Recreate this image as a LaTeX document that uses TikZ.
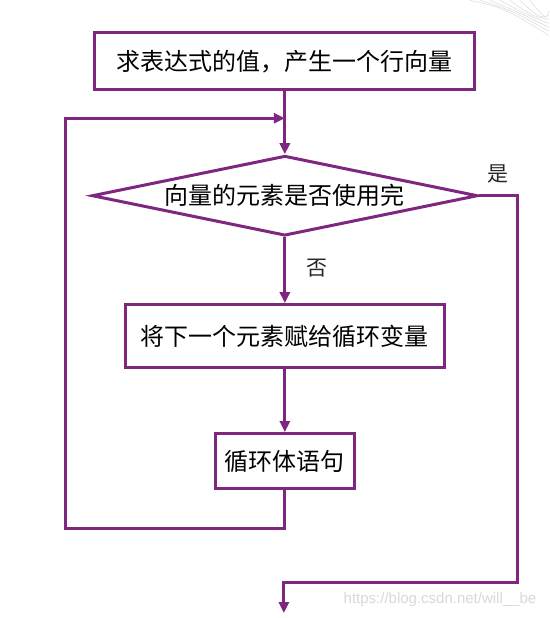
\documentclass[tikz,border=0pt]{standalone}
\usepackage{fontspec}
\newfontfamily\cjk{Noto Sans CJK SC}
\newfontfamily\urlfont{Liberation Sans}
\usetikzlibrary{shapes.geometric, arrows.meta, positioning}
\definecolor{flowpurple}{RGB}{126,38,128}

\begin{document}
\begin{tikzpicture}[x=1pt, y=-1pt,
  process/.style={rectangle, minimum height=57pt, text centered, align=center, draw=flowpurple, line width=3pt, fill=white, font=\cjk\fontsize{24}{28}\selectfont},
  decision/.style={diamond, aspect=4.8, inner sep=0pt, minimum width=386pt, minimum height=80pt, text centered, align=center, draw=flowpurple, line width=3pt, fill=white, font=\cjk\fontsize{24}{28}\selectfont},
  answer/.style={font=\cjk\fontsize{21}{24}\selectfont, text=black!85},
  arrow/.style={draw=flowpurple, line width=3pt, -{Triangle[length=11pt,width=10pt]}},
  link/.style={draw=flowpurple, line width=3pt}]

  % Background
  \fill[white] (0,0) rectangle (549,618);
  \foreach \i in {0,...,6}
    \draw[gray!25, line width=0.6pt] (470+10*\i,0) .. controls (505+7*\i,8+2*\i) .. (549,35-4*\i);

  % Nodes
  \node (calc) [process, minimum width=380pt] at (285,61) {求表达式的值，产生一个行向量};
  \node (check) [decision, below=63pt of calc] {向量的元素是否使用完};
  \node (assign) [process, minimum width=319pt, minimum height=63pt, below=66pt of check] {将下一个元素赋给循环变量};
  \node (body) [process, minimum width=139pt, minimum height=55pt, below=63pt of assign] {循环体语句};

  \node (yes) [answer] at (498,174) {是};
  \node (no) [answer] at (317,268) {否};

  \coordinate (join) at (285,118);
  \coordinate (done) at (284,613);

  % Arrows
  \draw [arrow] (calc) -- (check);
  \draw [arrow] (check) -- (assign);
  \draw [arrow] (assign) -- (body);
  \draw [arrow] (body.south) |- (66,528) |- (join);
  \draw [arrow] (check.east) -| (518,582) -| (done);

  % Watermark
  \node (mark) [anchor=east, text=gray!30, font=\urlfont\fontsize{15}{15}\selectfont] at (540,600) {https://blog.csdn.net/will\_\_be};
\end{tikzpicture}
\end{document}
